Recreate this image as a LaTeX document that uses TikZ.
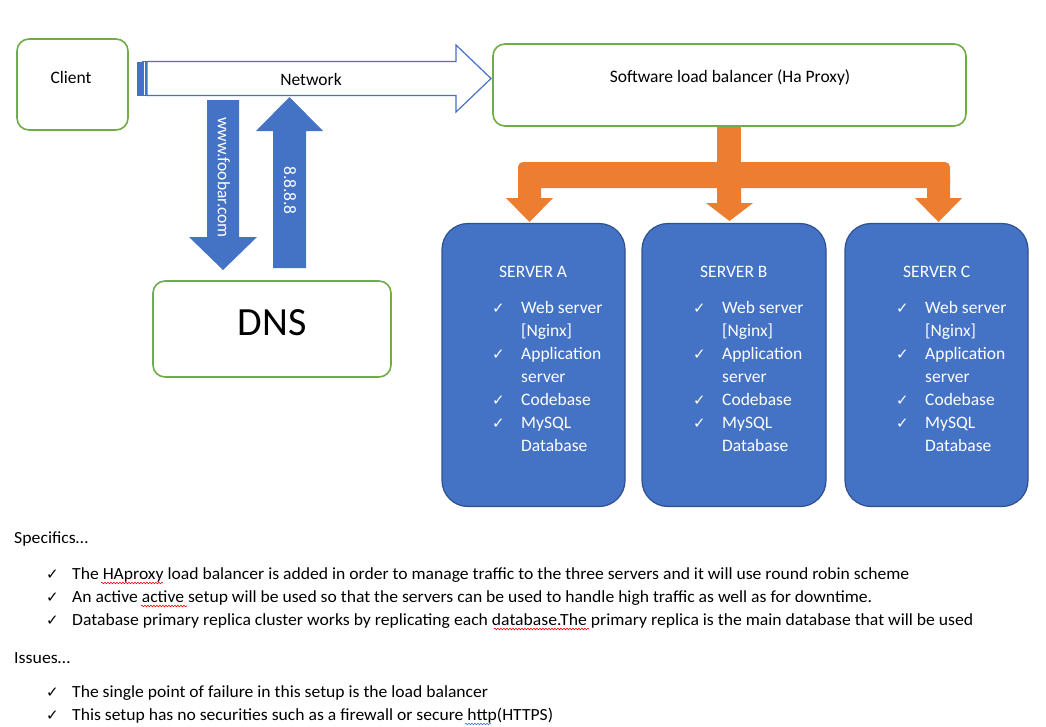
\documentclass[tikz,border=0pt]{standalone}
\usepackage{fontspec}
\usepackage{graphicx}
\setmainfont{Carlito}
\newfontfamily\dejavu{DejaVu Sans}
\usetikzlibrary{decorations.pathmorphing}
\definecolor{obl}{HTML}{4472C4}
\definecolor{obd}{HTML}{2F528F}
\definecolor{ogr}{HTML}{70AD47}
\definecolor{oor}{HTML}{ED7D31}
\newcommand{\ck}{{\dejavu\fontsize{15}{17}\selectfont ✓}}
\newcommand{\fitw}[2]{\resizebox{#1pt}{\height}{#2}}
\begin{document}
\begin{tikzpicture}[x=1pt,y=-1pt,
  gbox/.style={draw=ogr, line width=1.6pt, fill=white, rounded corners=12pt, inner sep=0pt},
  sbox/.style={draw=obd, line width=1.2pt, fill=obl, rounded corners=26pt, inner sep=0pt},
  txt/.style={font=\fontsize{17.5}{20}\selectfont, inner sep=0pt},
  wtxt/.style={txt, text=white},
  btxt/.style={font=\fontsize{17}{20}\selectfont, inner sep=0pt, anchor=base west},
  squig/.style={draw=red, line width=0.6pt, decorate, decoration={snake, amplitude=0.8pt, segment length=3pt}},
  squigb/.style={squig, draw=obl},
  blockfill/.style={fill=obl, draw=none},
  orfill/.style={fill=oor, draw=none}]
\useasboundingbox (0,0) rectangle (1046,726);
\fill[white] (0,0) rectangle (1046,726);

% boxes
\node[gbox, minimum width=111pt, minimum height=91pt] (client) at (72.5,84.5) {};
\node[txt, anchor=base] (clienttxt) at (71,83.5) {Client};
\node[gbox, minimum width=473pt, minimum height=82pt] (lb) at (729.5,85) {};
\node[txt, anchor=base] (lbtxt) at (730,82.5) {Software load balancer (Ha Proxy)};
\node[gbox, minimum width=238pt, minimum height=96pt] (dns) at (272,329) {};
\node[font=\fontsize{40}{44}\selectfont, inner sep=0pt, anchor=base] (dnstxt) at (272,335) {DNS};

% network arrow
\coordinate (nettail) at (137,78.5);
\coordinate (nettip) at (491,78.5);
\fill[obl] (137,61.5) rectangle (141.5,95.5);
\draw[obl, line width=1.2pt, fill=white] (143,61.5) rectangle (146,95.5);
\draw[obl, line width=1.2pt, fill=white, line join=miter]
  (147,61.5) -- (456,61.5) -- (456,45) -- (nettip) -- (456,112) -- (456,95.5) -- (147,95.5) -- cycle;
\node[txt, anchor=base] (nettxt) at (311,85.5) {Network};

% DNS request / reply arrows
\fill[blockfill] (207,100) -- (239,100) -- (239,237) -- (257,237) -- (223,270) -- (189,237) -- (207,237) -- cycle;
\node[wtxt, rotate=-90] (qtxt) at (224,177.5) {www.foobar.com};
\fill[blockfill] (273,268) -- (306,268) -- (306,131) -- (323,131) -- (289.5,97) -- (256,131) -- (273,131) -- cycle;
\node[wtxt, rotate=-90] (atxt) at (290,190.5) {8.8.8.8};

% orange distribution arrow
\fill[orfill, rounded corners=5pt] (518,162) rectangle (950,188);
\fill[orfill] (717,127) rectangle (741,170);
\fill[orfill] (518,180) -- (541,180) -- (541,198) -- (553,198) -- (529.5,222) -- (506,198) -- (518,198) -- cycle;
\fill[orfill] (717,180) -- (741,180) -- (741,203) -- (753,203) -- (729.5,221) -- (706,203) -- (717,203) -- cycle;
\fill[orfill] (927,180) -- (950,180) -- (950,198) -- (962,198) -- (938.5,222) -- (915,198) -- (927,198) -- cycle;

% servers
\node[sbox, minimum width=183pt, minimum height=283pt] (sa) at (533.5,365) {};
\node[sbox, minimum width=184pt, minimum height=283pt] (sb) at (734,365) {};
\node[sbox, minimum width=183pt, minimum height=283pt] (sc) at (936.5,365) {};
\foreach \s/\x in {A/499,B/700,C/903}{
  \node[wtxt, anchor=base west] at (\x,277.5) {SERVER \s};
  \node[anchor=base west, inner sep=0pt, text=white] at (\x-7,313.5) {\ck};
  \node[wtxt, anchor=base west] at (\x+22,313.5) {Web server};
  \node[wtxt, anchor=base west] at (\x+22,336.5) {[Nginx]};
  \node[anchor=base west, inner sep=0pt, text=white] at (\x-7,359.5) {\ck};
  \node[wtxt, anchor=base west] at (\x+22,359.5) {Application};
  \node[wtxt, anchor=base west] at (\x+22,382.5) {server};
  \node[anchor=base west, inner sep=0pt, text=white] at (\x-7,405.5) {\ck};
  \node[wtxt, anchor=base west] at (\x+22,405.5) {Codebase};
  \node[anchor=base west, inner sep=0pt, text=white] at (\x-7,428.5) {\ck};
  \node[wtxt, anchor=base west] at (\x+22,428.5) {MySQL};
  \node[wtxt, anchor=base west] at (\x+22,451.5) {Database};
}

% notes
\node[btxt] (spec) at (14,543) {\fitw{74}{Specifics\ldots}};
\node[btxt] at (46,579) {\ck};
\node[btxt] (s1) at (72,579) {\fitw{837}{The HAproxy load balancer is added in order to manage traffic to the three servers and it will use round robin scheme}};
\node[btxt] at (46,602) {\ck};
\node[btxt] (s2) at (72,602) {\fitw{800}{An active active setup will be used so that the servers can be used to handle high traffic as well as for downtime.}};
\node[btxt] at (46,625) {\ck};
\node[btxt] (s3) at (72,625) {\fitw{901}{Database primary replica cluster works by replicating each database.The primary replica is the main database that will be used}};
\node[btxt] (iss) at (14,663) {\fitw{56}{Issues\ldots}};
\node[btxt] at (46,697) {\ck};
\node[btxt] (i1) at (72,697) {\fitw{416}{The single point of failure in this setup is the load balancer}};
\node[btxt] at (46,720) {\ck};
\node[btxt] (i2) at (72,720) {\fitw{481}{This setup has no securities such as a firewall or secure http(HTTPS)}};

% spell-check marks
\draw[squig] (101,583) -- (163,583);
\draw[squig] (141,606) -- (187,606);
\draw[squig] (494,629) -- (589,629);
\draw[squigb] (465,724) -- (491,724);
\end{tikzpicture}
\end{document}
